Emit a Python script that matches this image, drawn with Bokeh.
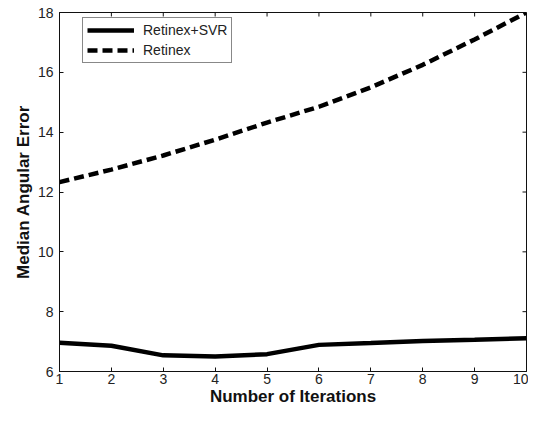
from bokeh.plotting import figure
from bokeh.models import Range1d, FixedTicker, Legend, LegendItem
from bokeh.embed import file_html
from bokeh.resources import INLINE

iterations = [1, 2, 3, 4, 5, 6, 7, 8, 9, 10]
retinex_svr = [6.96, 6.86, 6.54, 6.50, 6.58, 6.89, 6.95, 7.02, 7.06, 7.11]
retinex = [12.33, 12.75, 13.22, 13.75, 14.32, 14.85, 15.50, 16.25, 17.10, 18.0]
x_ticks = [1, 2, 3, 4, 5, 6, 7, 8, 9, 10]
y_ticks = [6, 8, 10, 12, 14, 16, 18]

FONT = "Liberation Sans"
W, H = 528, 411
BL, BR, BT, BB = 59, 2, 12, 40
FW, FH = W - BL - BR, H - BT - BB
X0, X1, Y0, Y1 = 1, 10, 6, 18

p = figure(width=W, height=H, output_backend="svg", toolbar_location=None,
           x_range=Range1d(X0, X1), y_range=Range1d(Y0, Y1),
           min_border_left=BL, min_border_right=BR, min_border_top=BT, min_border_bottom=BB)
p.background_fill_color = "white"
p.border_fill_color = "white"
p.outline_line_color = "#111111"
p.outline_line_width = 1
p.grid.visible = False

for ax in p.xaxis + p.yaxis:
    ax.major_tick_in = 4
    ax.major_tick_out = 0
    ax.minor_tick_line_color = None
    ax.axis_line_color = "#111111"
    ax.major_tick_line_color = "#111111"
    ax.major_label_text_font = FONT
    ax.major_label_text_font_size = "14px"
    ax.major_label_text_color = "#222222"
    ax.axis_label_text_font = FONT
    ax.axis_label_text_font_size = "17px"
    ax.axis_label_text_font_style = "bold"
    ax.axis_label_text_color = "#111111"

p.xaxis.ticker = FixedTicker(ticks=x_ticks)
p.yaxis.ticker = FixedTicker(ticks=y_ticks)
p.xaxis.axis_label = "Number of Iterations"
p.yaxis.axis_label = "Median Angular Error"
p.xaxis.major_label_standoff = 2
p.xaxis.axis_label_standoff = 0
p.yaxis.major_label_standoff = 6
p.yaxis.axis_label_standoff = 2

# inward ticks on top and right edges of the box
tx = 4 * (X1 - X0) / FW
ty = 4 * (Y1 - Y0) / FH
p.segment(x0=x_ticks, x1=x_ticks, y0=[Y1] * len(x_ticks), y1=[Y1 - ty] * len(x_ticks),
          line_color="#111111", line_width=1)
p.segment(x0=[X1] * len(y_ticks), x1=[X1 - tx] * len(y_ticks), y0=y_ticks, y1=y_ticks,
          line_color="#111111", line_width=1)

r1 = p.line(iterations, retinex_svr, line_color="black", line_width=4.5)
r2 = p.line(iterations, retinex, line_color="black", line_width=4.5, line_dash="10 5")

LEG_H = 44
legend = Legend(items=[LegendItem(label="Retinex+SVR", renderers=[r1]),
                       LegendItem(label="Retinex", renderers=[r2])],
                location=(23, FH - 7 - LEG_H))
legend.label_text_font = FONT
legend.label_text_font_size = "14px"
legend.label_text_color = "#222222"
legend.glyph_width = 47
legend.glyph_height = 16
legend.label_height = 16
legend.spacing = 4
legend.padding = 4
legend.margin = 0
legend.label_standoff = 9
legend.border_line_color = "#111111"
legend.border_line_width = 1
legend.background_fill_alpha = 1
legend.background_fill_color = "white"
p.add_layout(legend)

open("out.html", "w").write(file_html(p, INLINE))
